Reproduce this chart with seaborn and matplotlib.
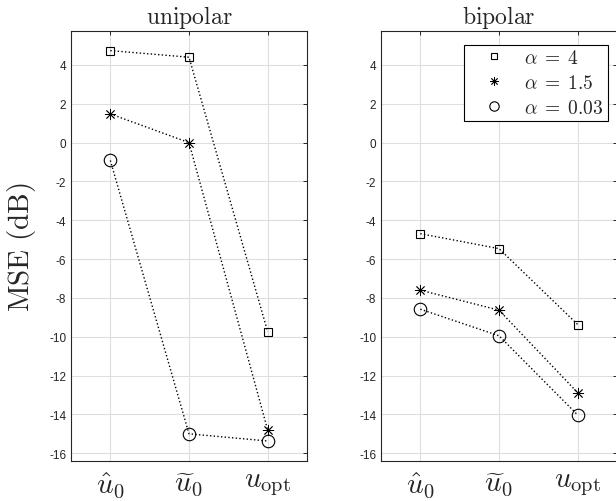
import pandas as pd
import seaborn as sns
import matplotlib.pyplot as plt
from matplotlib.lines import Line2D

# Values (MSE in dB)
estimators = [r"$\hat{u}_0$", r"$\widetilde{u}_0$", r"$u_{\rm opt}$"]
alphas = [r"$\alpha\;=\;4$", r"$\alpha\;=\;1.5$", r"$\alpha\;=\;0.03$"]

uni_a4 = [4.74, 4.40, -9.74]
uni_a15 = [1.48, 0.0, -14.8]
uni_a003 = [-0.92, -15.0, -15.37]

bi_a4 = [-4.69, -5.46, -9.37]
bi_a15 = [-7.60, -8.63, -12.88]
bi_a003 = [-8.58, -9.95, -14.03]

markers = ["s", (8, 2, 0), "o"]
msizes = [6, 8, 9]
mew = [0.8, 0.6, 0.8]

sns.set_style("white")
plt.rcParams["mathtext.fontset"] = "cm"
plt.rcParams["font.family"] = ["Liberation Sans", "DejaVu Sans"]

fig = plt.figure(figsize=(6.16, 5.02), dpi=100)
ax1 = fig.add_axes([71 / 616, 40 / 502, 236 / 616, 430 / 502])
ax2 = fig.add_axes([381 / 616, 40 / 502, 236 / 616, 430 / 502])

panels = [
    (ax1, "unipolar", [uni_a4, uni_a15, uni_a003]),
    (ax2, "bipolar", [bi_a4, bi_a15, bi_a003]),
]

xpos = [1, 2, 3]
for ax, title, series in panels:
    for vals, mk, ms, ew in zip(series, markers, msizes, mew):
        sns.lineplot(x=xpos, y=vals, ax=ax, color="k", linestyle=":",
                     linewidth=1.0, marker=mk, markersize=ms,
                     markerfacecolor="none", markeredgecolor="k",
                     markeredgewidth=ew)
    ax.set_xlim(0.5, 3.5)
    ax.set_ylim(-16.4, 5.75)
    ax.set_xticks(xpos)
    ax.set_xticklabels(estimators, fontsize=21)
    ax.set_yticks(range(-16, 5, 2))
    ax.set_yticklabels([str(v) for v in range(-16, 5, 2)], fontsize=8.5,
                       color="#262626")
    ax.grid(True, color="#dedede", linewidth=0.8)
    ax.tick_params(direction="in", length=3, top=True, right=True,
                   color="#262626", width=0.7)
    ax.tick_params(axis="x", pad=6)
    for sp in ax.spines.values():
        sp.set_color("#262626")
        sp.set_linewidth(0.8)
    ax.set_title(r"$\mathrm{%s}$" % title, fontsize=17, pad=6)
    ax.set_xlabel("")

ax1.set_ylabel(r"$\mathrm{MSE\ (dB)}$", fontsize=21, labelpad=8)

handles = [Line2D([], [], color="k", linestyle="none", marker=mk,
                  markersize=ms * 0.75, markerfacecolor="none",
                  markeredgewidth=ew)
           for mk, ms, ew in zip(markers, msizes, mew)]
leg = ax2.legend(handles, alphas, loc="upper right", fontsize=14,
                 frameon=True, fancybox=False, edgecolor="k",
                 framealpha=1, borderpad=0.2, labelspacing=0.35,
                 handletextpad=0.2, handlelength=2.7, borderaxespad=0,
                 bbox_to_anchor=(0.962, 0.967))
leg.get_frame().set_linewidth(0.8)

fig.savefig("out.png", dpi=100)
